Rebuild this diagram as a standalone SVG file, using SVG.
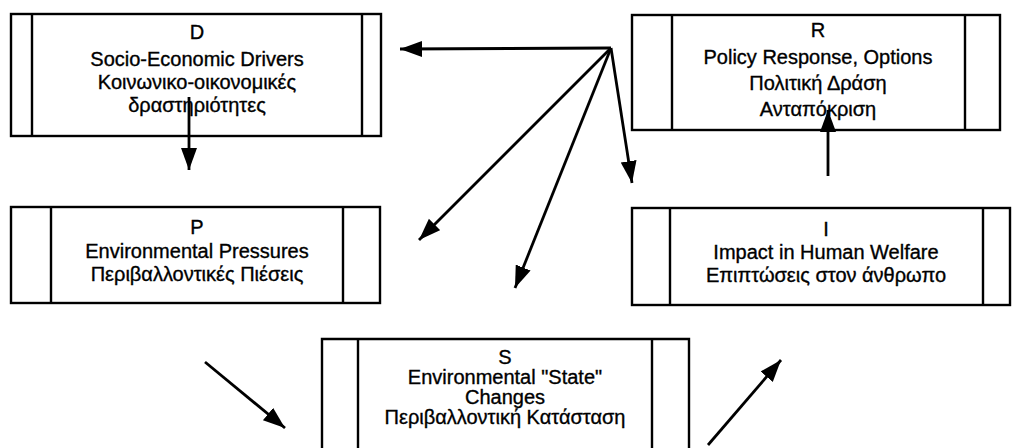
<svg xmlns="http://www.w3.org/2000/svg" width="1012" height="448" viewBox="0 0 1012 448">
<style>
.box{fill:#fff;stroke:#000;stroke-width:2.4}
.div{stroke:#000;stroke-width:2.4;fill:none}
.t{font-family:"Liberation Sans",Arial,sans-serif;font-size:20px;fill:#000;stroke:#000;stroke-width:0.35;text-anchor:middle}
.c{stroke:#000;stroke-width:2.8;fill:none;marker-end:url(#ah)}
</style>
<defs>
<marker id="ah" markerUnits="userSpaceOnUse" markerWidth="24" markerHeight="18" refX="22" refY="8" orient="auto">
<path d="M0,0 L22,8 L0,16 z" fill="#000"/>
</marker>
</defs>
<rect width="1012" height="448" fill="#fff"/>
<g id="node-D">
<rect class="box" x="11" y="14" width="370" height="122"/>
<path class="div" d="M32,14 V136 M362,14 V136"/>
<text class="t" x="197" y="39">D</text>
<text class="t" x="197" y="66">Socio-Economic Drivers</text>
<text class="t" x="197" y="89">Κοινωνικο-οικονομικές</text>
<text class="t" x="197" y="112">δραστηριότητες</text>
</g>
<g id="node-R">
<rect class="box" x="632" y="15" width="368" height="115"/>
<path class="div" d="M672,15 V130 M965,15 V130"/>
<text class="t" x="818" y="37">R</text>
<text class="t" x="818" y="64">Policy Response, Options</text>
<text class="t" x="818" y="90">Πολιτική Δράση</text>
<text class="t" x="818" y="116">Ανταπόκριση</text>
</g>
<g id="node-P">
<rect class="box" x="11" y="207" width="369" height="96"/>
<path class="div" d="M51,207 V303 M343,207 V303"/>
<text class="t" x="197" y="234">P</text>
<text class="t" x="197" y="258">Environmental Pressures</text>
<text class="t" x="197" y="281">Περιβαλλοντικές Πιέσεις</text>
</g>
<g id="node-I">
<rect class="box" x="632" y="208" width="378" height="97"/>
<path class="div" d="M670,208 V305 M983,208 V305"/>
<text class="t" x="826" y="236">I</text>
<text class="t" x="826" y="259">Impact in Human Welfare</text>
<text class="t" x="826" y="282">Επιπτώσεις στον άνθρωπο</text>
</g>
<g id="node-S">
<path class="box" d="M322,449 V339 H689 V449"/>
<path class="div" d="M358,339 V449 M652,339 V449"/>
<text class="t" x="505" y="364">S</text>
<text class="t" x="505" y="384">Environmental "State"</text>
<text class="t" x="505" y="404">Changes</text>
<text class="t" x="505" y="424">Περιβαλλοντική Κατάσταση</text>
</g>
<g id="connectors">
<line class="c" x1="189" y1="97" x2="189" y2="170"/>
<line class="c" x1="611" y1="48" x2="400" y2="49"/>
<line class="c" x1="611" y1="48" x2="419" y2="240"/>
<line class="c" x1="611" y1="48" x2="515" y2="288"/>
<line class="c" x1="611" y1="48" x2="632" y2="183"/>
<line class="c" x1="828" y1="176" x2="828" y2="110"/>
<line class="c" x1="205" y1="362" x2="285" y2="428"/>
<line class="c" x1="708" y1="445" x2="781" y2="360"/>
</g>
</svg>
